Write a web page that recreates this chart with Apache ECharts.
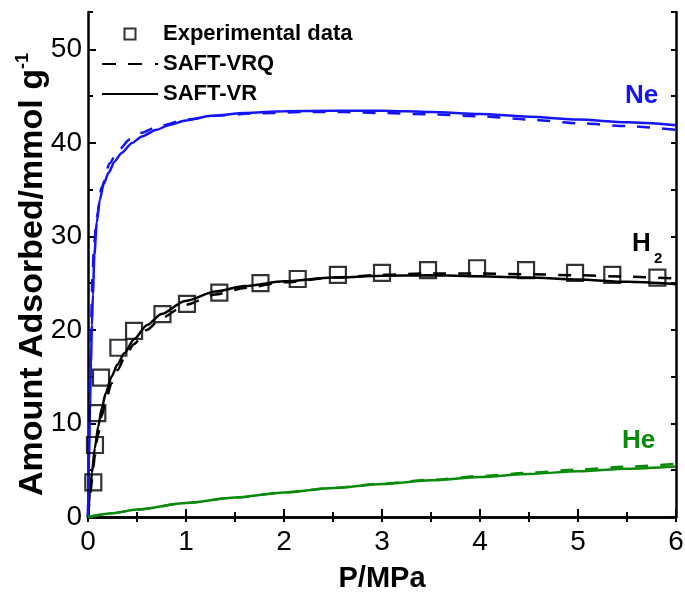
<!DOCTYPE html>
<html>
<head>
<meta charset="utf-8">
<script src="https://cdn.jsdelivr.net/npm/echarts@6/dist/echarts.min.js"></script>
<style>
  html, body { margin: 0; padding: 0; background: #fff; }
  #chart { width: 685px; height: 592px; }
</style>
</head>
<body>
<div id="chart"></div>
<script>
// Adsorption isotherms: amount adsorbed vs pressure for H2, Ne and He
const FONT = 'Liberation Sans, Arial, Helvetica, sans-serif';

// H2 experimental data
const h2ExpP = [0.054, 0.071, 0.095, 0.133, 0.31, 0.47, 0.76, 1.01, 1.34, 1.76, 2.14, 2.55, 3.0, 3.47, 3.97, 4.47, 4.97, 5.35, 5.81];
const h2ExpQ = [3.7, 7.7, 11.1, 14.9, 18.1, 19.9, 21.7, 22.8, 24.0, 25.0, 25.45, 25.9, 26.1, 26.4, 26.6, 26.4, 26.1, 25.9, 25.6];

// H2 model curves
const h2VrP  = [0, 0.02, 0.04, 0.07, 0.105, 0.14, 0.18, 0.24, 0.3, 0.37, 0.47, 0.6, 0.75, 0.99, 1.3, 1.6, 2.0, 2.5, 3.0, 3.5, 4.0, 4.5, 5.0, 5.5, 6.0];
const h2VrQ  = [0, 2.5, 4.7, 7.4, 9.7, 11.6, 13.2, 15.0, 16.3, 17.5, 19.0, 20.5, 21.7, 23.1, 24.1, 24.7, 25.2, 25.6, 25.8, 25.85, 25.75, 25.6, 25.4, 25.15, 24.9];
const h2VrqP = [0, 0.02, 0.04, 0.07, 0.1, 0.14, 0.18, 0.24, 0.3, 0.38, 0.47, 0.6, 0.75, 1.0, 1.3, 1.6, 2.0, 2.5, 3.0, 3.5, 4.0, 4.5, 5.0, 5.5, 6.0];
const h2VrqQ = [0, 2.0, 3.9, 6.5, 8.7, 10.8, 12.4, 14.3, 15.7, 17.2, 18.5, 20.0, 21.3, 22.7, 23.8, 24.5, 25.1, 25.6, 25.9, 26.05, 26.05, 25.95, 25.85, 25.7, 25.5];

// Ne model curves
const neVrP  = [0, 0.01, 0.02, 0.03, 0.04, 0.05, 0.065, 0.09, 0.12, 0.16, 0.21, 0.27, 0.34, 0.45, 0.55, 0.7, 0.82, 1.0, 1.26, 1.6, 2.0, 2.5, 3.0, 3.5, 4.0, 4.5, 5.0, 5.5, 6.0];
const neVrQ  = [0, 6, 11.5, 16.5, 20.5, 23.8, 28.0, 31.5, 33.9, 35.6, 36.8, 38.0, 38.9, 40.0, 40.7, 41.4, 41.9, 42.4, 42.9, 43.2, 43.4, 43.45, 43.45, 43.3, 43.1, 42.8, 42.5, 42.2, 41.9];
const neVrqP = [0, 0.01, 0.02, 0.03, 0.045, 0.06, 0.09, 0.14, 0.22, 0.3, 0.43, 0.55, 0.72, 1.0, 1.3, 1.7, 2.2, 2.6, 3.0, 3.5, 4.0, 4.5, 5.0, 5.5, 6.0];
const neVrqQ = [0, 8, 15, 20, 25.5, 29, 32.1, 35.3, 37.8, 39.1, 40.4, 41.1, 41.8, 42.5, 42.9, 43.15, 43.3, 43.3, 43.2, 43.05, 42.85, 42.5, 42.1, 41.8, 41.4];

// He model curves
const heP    = [0, 0.25, 0.5, 1.0, 1.5, 2.0, 2.5, 3.0, 3.5, 4.0, 4.5, 5.0, 5.5, 6.0];
const heVrQ  = [0, 0.41, 0.79, 1.49, 2.08, 2.62, 3.1, 3.53, 3.92, 4.28, 4.6, 4.89, 5.15, 5.39];
const heVrqQ = [0, 0.41, 0.79, 1.49, 2.08, 2.62, 3.11, 3.56, 3.98, 4.37, 4.73, 5.07, 5.39, 5.68];

// Axis ticks
const xTicks = [0, 1, 2, 3, 4, 5, 6];
const yTicks = [0, 10, 20, 30, 40, 50];

const BLUE = '#1414f5';
const GREEN = '#0a8a0a';
const BLACK = '#000000';
const DASH = [13, 12];

const zip = (xs, ys) => xs.map((x, i) => [x, ys[i]]);

function curve(name, xs, ys, color, dashed) {
  return {
    type: 'line',
    name: name,
    data: zip(xs, ys),
    symbol: 'none',
    smooth: 0.25,
    smoothMonotone: 'x',
    lineStyle: { color: color, width: 2.5, type: dashed ? DASH : 'solid' },
    itemStyle: { color: color },
    z: 3
  };
}

const chart = echarts.init(document.getElementById('chart'), null, { renderer: 'canvas' });

const axisLineStyle = { color: BLACK, width: 2.5 };

const option = {
  animation: false,
  backgroundColor: '#ffffff',
  grid: { left: 88, right: 9, top: 12, bottom: 75, containLabel: false, outerBoundsMode: 'none' },
  legend: {
    orient: 'vertical',
    left: 97,
    top: 18,
    itemWidth: 56,
    itemHeight: 11,
    itemGap: 8,
    selectedMode: false,
    textStyle: { fontFamily: FONT, fontSize: 22, fontWeight: 'bold', color: BLACK },
    data: [
      { name: 'Experimental data', icon: 'path://M0,0H10V10H0Z' },
      { name: 'SAFT-VRQ', icon: 'path://M0,0H14V2.2H0Z M26,0H40V2.2H26Z M53,0H56V2.2H53Z', itemStyle: { color: BLACK } },
      { name: 'SAFT-VR', icon: 'path://M0,0H56V2.2H0Z', itemStyle: { color: BLACK } }
    ]
  },
  xAxis: [
    {
      type: 'value', position: 'bottom', min: xTicks[0], max: xTicks[xTicks.length - 1], interval: 1,
      name: 'P/MPa', nameLocation: 'middle', nameGap: 47,
      nameTextStyle: { fontFamily: FONT, fontSize: 29, fontWeight: 'bold', color: BLACK },
      axisLine: { show: true, lineStyle: axisLineStyle },
      axisTick: { show: true, inside: true, length: 8, lineStyle: { color: BLACK, width: 2 } },
      minorTick: { show: true, splitNumber: 2, length: 5, lineStyle: { color: BLACK, width: 2 } },
      axisLabel: { fontFamily: FONT, fontSize: 28, color: BLACK, margin: 11 },
      splitLine: { show: false }, minorSplitLine: { show: false }
    },
    {
      type: 'value', position: 'top', min: 0, max: 6, interval: 0.5,
      axisLine: { show: true, lineStyle: axisLineStyle },
      axisTick: { show: true, inside: true, length: 5, lineStyle: { color: BLACK, width: 2 } },
      axisLabel: { show: false },
      splitLine: { show: false }
    }
  ],
  yAxis: [
    {
      type: 'value', position: 'left', min: yTicks[0], max: 54, interval: 10,
      name: '{a|Amount Adsorbed/mmol g}{b|-1}', nameLocation: 'middle', nameGap: 36, nameRotate: 90,
      nameMoveOverlap: false,
      nameTextStyle: {
        padding: [0, 20, 0, 0],
        rich: {
          a: { fontFamily: FONT, fontSize: 34, fontWeight: 'bold', color: BLACK, lineHeight: 38 },
          b: { fontFamily: FONT, fontSize: 18, fontWeight: 'bold', color: BLACK, verticalAlign: 'top', lineHeight: 38 }
        }
      },
      axisLine: { show: true, lineStyle: axisLineStyle },
      axisTick: { show: true, inside: true, length: 8, lineStyle: { color: BLACK, width: 2 } },
      axisLabel: { fontFamily: FONT, fontSize: 28, color: BLACK, margin: 6, showMaxLabel: false },
      splitLine: { show: false }
    },
    {
      // half-step ticks on the left edge
      type: 'value', position: 'left', min: 0, max: 54, interval: 5,
      axisLine: { show: false },
      axisTick: { show: true, inside: true, length: 5, lineStyle: { color: BLACK, width: 2 } },
      axisLabel: { show: false },
      splitLine: { show: false }
    },
    {
      type: 'value', position: 'right', min: 0, max: 54, interval: 5,
      axisLine: { show: true, lineStyle: axisLineStyle },
      axisTick: { show: true, inside: true, length: 5, lineStyle: { color: BLACK, width: 2 } },
      axisLabel: { show: false },
      splitLine: { show: false }
    }
  ],
  series: [
    curve('SAFT-VRQ', h2VrqP, h2VrqQ, BLACK, true),
    curve('SAFT-VR', h2VrP, h2VrQ, BLACK, false),
    curve('SAFT-VRQ', neVrqP, neVrqQ, BLUE, true),
    curve('SAFT-VR', neVrP, neVrQ, BLUE, false),
    curve('SAFT-VRQ', heP, heVrqQ, GREEN, true),
    curve('SAFT-VR', heP, heVrQ, GREEN, false),
    {
      type: 'scatter',
      name: 'Experimental data',
      data: zip(h2ExpP, h2ExpQ),
      symbol: 'rect',
      symbolSize: 16,
      itemStyle: { color: 'rgba(0,0,0,0)', borderColor: BLACK, borderWidth: 2.2 },
      z: 4
    }
  ],
  graphic: [
    { type: 'text', left: 625, top: 83, style: { text: 'Ne', fill: BLUE, font: 'bold 26px ' + FONT } },
    { type: 'text', left: 632, top: 231, style: { text: 'H', fill: BLACK, font: 'bold 26px ' + FONT } },
    { type: 'text', left: 654, top: 251, style: { text: '2', fill: BLACK, font: 'bold 15px ' + FONT } },
    { type: 'text', left: 622, top: 428, style: { text: 'He', fill: GREEN, font: 'bold 26px ' + FONT } }
  ]
};

chart.setOption(option);
</script>
</body>
</html>
